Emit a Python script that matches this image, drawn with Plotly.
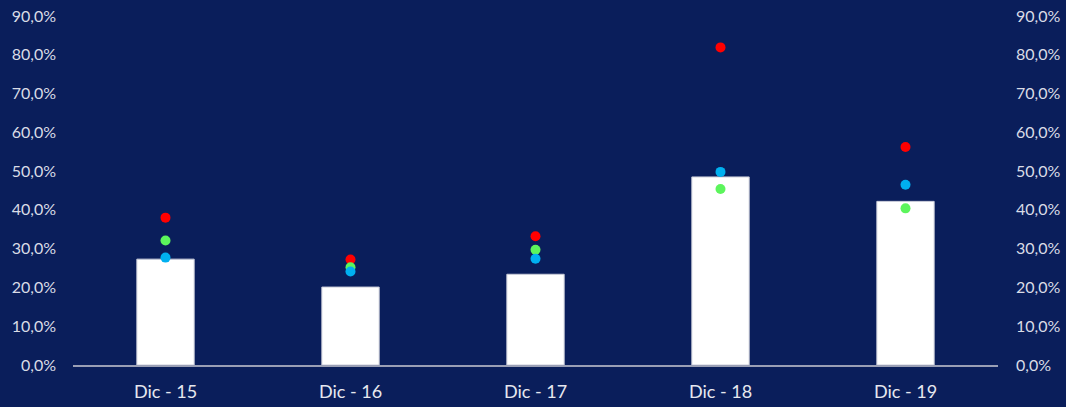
import plotly.graph_objects as go

categories = ["Dic - 15", "Dic - 16", "Dic - 17", "Dic - 18", "Dic - 19"]
bar_values = [0.273, 0.201, 0.234, 0.485, 0.422]
red_values = [0.380, 0.272, 0.332, 0.819, 0.562]
green_values = [0.321, 0.252, 0.297, 0.454, 0.404]
blue_values = [0.277, 0.241, 0.274, 0.498, 0.465]
tick_vals = [i / 10 for i in range(10)]

BG = "#0a1e5b"
LABEL = "#d9dce6"
FONT = "Lato, 'Open Sans', sans-serif"

fig = go.Figure()
fig.add_trace(go.Bar(x=categories, y=bar_values, marker=dict(color="white", line=dict(color="#c8cbd8", width=1)),
                     showlegend=False, hoverinfo="skip"))
for vals, col in [(red_values, "#ff0000"), (green_values, "#5cf55c"), (blue_values, "#00b0f0")]:
    fig.add_trace(go.Scatter(x=categories, y=vals, mode="markers",
                             marker=dict(color=col, size=10), showlegend=False))
# invisible trace for right axis
fig.add_trace(go.Scatter(x=categories, y=bar_values, yaxis="y2", mode="markers",
                         marker=dict(opacity=0), showlegend=False, hoverinfo="skip"))

fig.update_layout(
    width=1066, height=407,
    paper_bgcolor=BG, plot_bgcolor=BG,
    margin=dict(l=73, r=68, t=16, b=42, autoexpand=False),
    separators=",.",
    bargap=0.69,
    font=dict(family=FONT, color=LABEL, size=16),
    xaxis=dict(showgrid=False, zeroline=False, showline=True, linecolor="#9a9fb5", linewidth=2,
               ticks="", tickfont=dict(size=18, color="#e6e8ef"), ticklabelstandoff=9, automargin=False),
    yaxis=dict(range=[0, 0.9], tickvals=tick_vals, tickformat=".1%", showgrid=False, zeroline=False,
               showline=False, ticks="", ticklabelstandoff=16, tickfont=dict(size=16, color=LABEL),
               automargin=False),
    yaxis2=dict(range=[0, 0.9], tickvals=tick_vals, tickformat=".1%", overlaying="y", side="right",
                showgrid=False, zeroline=False, showline=False, ticks="", ticklabelstandoff=17,
                tickfont=dict(size=16, color=LABEL), automargin=False),
)

fig.write_html("out.html", config={"displayModeBar": False},
               post_script="document.body.style.margin='0';document.body.style.background='%s';" % BG)
